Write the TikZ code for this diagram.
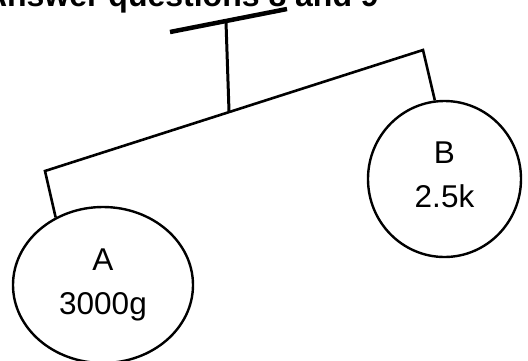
\documentclass[tikz,border=0pt]{standalone}
\usepackage{fontspec}
\setmainfont{Liberation Sans}
\usetikzlibrary{shapes.geometric,positioning}
\tikzstyle{weight} = [ellipse, draw=black, line width=2.4pt, inner sep=0pt, text centered, align=center, font=\fontsize{31.5}{44}\selectfont]
\tikzstyle{rod} = [line width=2.6pt, line join=miter]

\begin{document}
\begin{tikzpicture}[x=1pt,y=-1pt]
        \useasboundingbox (0,0) rectangle (528,360);
        \clip (0,0) rectangle (528,360);

        \node[anchor=base east, inner sep=0pt, font=\bfseries\fontsize{32}{38}\selectfont] (Title) at (379,6) {Answer questions 8 and 9};

        % hanger and beam
        \coordinate (BarL) at (170,32);
        \coordinate (BarR) at (287,9);
        \coordinate (Hook) at (226,22);
        \coordinate (Pivot) at (229,111);
        \coordinate (BeamL) at (45,171);
        \coordinate (BeamR) at (423,50);

        \node[weight, minimum width=180pt, minimum height=156pt] (A) at (103,285) {A\\3000g};
        \node[weight, minimum width=153pt, minimum height=156pt, text depth=8pt] (B) at (444.5,179) {B\\2.5k};

        \draw[line width=4.5pt] (BarL) -- (BarR);
        \draw[line width=3pt] (Hook) -- (Pivot);
        \draw[rod] (A.125) -- (BeamL) -- (BeamR) -- (B.97);

\end{tikzpicture}
\end{document}
